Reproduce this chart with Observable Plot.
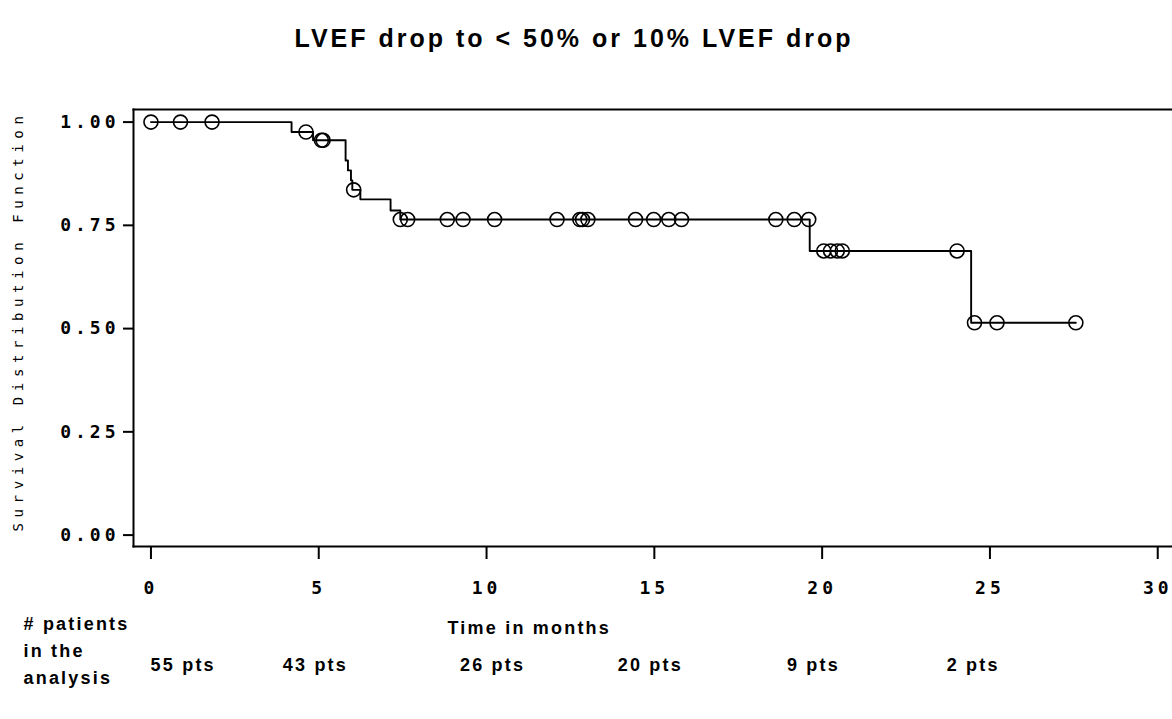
<!DOCTYPE html>
<html>
<head>
<meta charset="utf-8">
<script src="https://cdn.jsdelivr.net/npm/d3@7"></script>
<script src="https://cdn.jsdelivr.net/npm/@observablehq/plot@0.6"></script>
<style>
  body { margin: 0; background: #fff; }
  #chart { position: relative; width: 1172px; height: 719px; }
  g[aria-label="y-axis tick label"] text,
  g[aria-label="x-axis tick label"] text { letter-spacing: 4px; }
  g[aria-label="text"][font-size="25"] text { letter-spacing: 3px; }
  g[aria-label="text"][font-size="14"] text { letter-spacing: 5.6px; }
  g[aria-label="text"][font-size="18"] text { letter-spacing: 2.2px; }
</style>
</head>
<body>
<div id="chart"></div>
<script>
// Title and labels
const titleText = "LVEF drop to < 50% or 10% LVEF drop";
const yLabelText = "Survival Distribution Function";
const xLabelText = "Time in months";
const riskHeader = "# patients\nin the\nanalysis";

// Axis ticks
const xTicks = [0, 5, 10, 15, 20, 25, 30];
const yTicks = [0, 0.25, 0.5, 0.75, 1.0];

// Kaplan-Meier step curve (time in months, survival)
const stepTimes = [0, 4.19, 4.83, 5.80, 5.87, 5.96, 6.00, 6.24, 7.14, 7.43, 19.63, 24.44, 27.56];
const stepSurv  = [1.000, 0.976, 0.956, 0.907, 0.883, 0.859, 0.836, 0.813, 0.786, 0.764, 0.688, 0.514, 0.514];

// Censored observations
const censorTimes = [0, 0.88, 1.82, 4.62, 5.08, 5.13, 6.04,
  7.43, 7.65, 8.83, 9.30, 10.24, 12.10, 12.78, 12.86, 13.02, 14.44, 14.98, 15.43, 15.81, 18.62, 19.17, 19.60,
  20.05, 20.25, 20.45, 20.60, 24.02,
  24.54, 25.21, 27.56];
const censorSurv = [1, 1, 1, 0.976, 0.956, 0.956, 0.836,
  0.764, 0.764, 0.764, 0.764, 0.764, 0.764, 0.764, 0.764, 0.764, 0.764, 0.764, 0.764, 0.764, 0.764, 0.764, 0.764,
  0.688, 0.688, 0.688, 0.688, 0.688,
  0.514, 0.514, 0.514];

// Patients at risk
const riskLabels = ["55 pts", "43 pts", "26 pts", "20 pts", "9 pts", "2 pts"];
const riskTimes = [0.96, 4.9, 10.18, 14.88, 19.74, 24.5];

const steps = stepTimes.map((t, i) => ({t, s: stepSurv[i]}));
const censored = censorTimes.map((t, i) => ({t, s: censorSurv[i]}));
const risk = riskLabels.map((label, i) => ({t: riskTimes[i], label}));

const mono = "'DejaVu Sans Mono', 'Liberation Mono', monospace";
const sans = "'Liberation Sans', Arial, sans-serif";

const chart = Plot.plot({
  width: 1172,
  height: 719,
  marginTop: 109,
  marginBottom: 173,
  marginLeft: 133,
  marginRight: 0,
  style: {background: "#fff", color: "#000", overflow: "visible"},
  x: {domain: [-0.52, 30.44]},
  y: {domain: [-0.0276, 1.0305]},
  marks: [
    Plot.frame({anchor: "top", stroke: "#000", strokeWidth: 2}),
    Plot.frame({anchor: "left", stroke: "#000", strokeWidth: 2}),
    Plot.frame({anchor: "bottom", stroke: "#000", strokeWidth: 2}),
    Plot.axisY(yTicks, {
      tickFormat: d => d.toFixed(2), tickSize: 10, tickPadding: 4,
      fontFamily: mono, fontSize: 18, fontWeight: "bold", label: null,
      strokeWidth: 2
    }),
    Plot.axisX(xTicks, {
      tickFormat: d => String(d), tickSize: 13, tickPadding: 22,
      fontFamily: mono, fontSize: 18, fontWeight: "bold", label: null,
      strokeWidth: 2
    }),
    Plot.line(steps, {x: "t", y: "s", curve: "step-after", stroke: "#000", strokeWidth: 1.9}),
    Plot.dot(censored, {x: "t", y: "s", r: 7, stroke: "#000", strokeWidth: 1.6, fill: "none"}),
    Plot.text([titleText], {
      frameAnchor: "top-left", dx: 161, dy: -80, textAnchor: "start",
      fontFamily: sans, fontSize: 25, fontWeight: "bold", fill: "#000"
    }),
    Plot.text([yLabelText], {
      frameAnchor: "left", dx: -115, dy: -7, rotate: -90, textAnchor: "middle",
      fontFamily: mono, fontSize: 14, fill: "#000"
    }),
    Plot.text([xLabelText], {
      frameAnchor: "bottom-left", dx: 314, dy: 87, textAnchor: "start",
      fontFamily: sans, fontSize: 18, fontWeight: "bold", fill: "#000"
    }),
    Plot.text(risk, {
      x: "t", text: "label", frameAnchor: "bottom", dy: 124, textAnchor: "middle",
      fontFamily: sans, fontSize: 18, fontWeight: "bold", fill: "#000"
    }),
    Plot.text([riskHeader], {
      frameAnchor: "bottom-left", dx: -110, dy: 137, textAnchor: "start",
      lineHeight: 1.5, fontFamily: sans, fontSize: 18, fontWeight: "bold", fill: "#000"
    })
  ]
});
document.getElementById("chart").appendChild(chart);
</script>
</body>
</html>
